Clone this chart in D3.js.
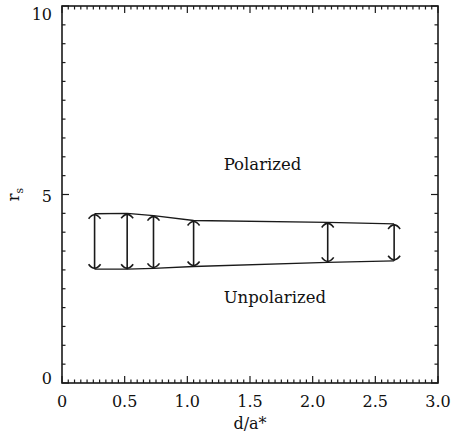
<!DOCTYPE html>
<html>
<head>
<meta charset="utf-8">
<script src="https://cdn.jsdelivr.net/npm/d3@7"></script>
<style>
  html, body { margin: 0; padding: 0; background: #fff; }
  svg { display: block; }
  text { font-family: "DejaVu Serif", "Liberation Serif", serif; fill: #111; }
</style>
</head>
<body>
<svg id="chart" width="452" height="439"></svg>
<script>
// ---- data ----
const dValues = [0.26, 0.52, 0.73, 1.05, 2.12, 2.65];      // d/a*
const upperRs = [4.49, 4.50, 4.44, 4.31, 4.26, 4.22];      // polarization boundary (upper)
const lowerRs = [3.02, 3.02, 3.04, 3.09, 3.20, 3.24];      // polarization boundary (lower)
const xTickLabels = ["0", "0.5", "1.0", "1.5", "2.0", "2.5", "3.0"];
const xTickValues = [0, 0.5, 1.0, 1.5, 2.0, 2.5, 3.0];
const yTickValues = [0, 5, 10];
const yTickLabels = ["0", "5", "10"];
const regionLabels = [
  { text: "Polarized", x: 1.29, y: 5.65 },
  { text: "Unpolarized", x: 1.29, y: 2.12 }
];

// ---- layout ----
const svg = d3.select("#chart");
const L = 62, R = 438, T = 6, B = 383;
const x = d3.scaleLinear().domain([0, 3]).range([L, R]);
const y = d3.scaleLinear().domain([0, 10]).range([B, T]);
// label baseline positions (labels sit slightly inside the axis ends, as in the reference)
const yLab = d3.scaleLinear().domain([0, 10]).range([384, 20]);
const ink = "#1a1a1a";

// minor tick values
const xMinor = d3.range(0, 3.0001, 0.05).map(v => +v.toFixed(2));
const yMinor = d3.range(0, 10.0001, 0.5).map(v => +v.toFixed(2));
const isMajorX = v => Math.abs(v * 2 - Math.round(v * 2)) < 1e-6;
const isMajorY = v => Math.abs(v / 5 - Math.round(v / 5)) < 1e-6;

// frame
const axes = svg.append("g");
axes.append("rect")
  .attr("x", L).attr("y", T).attr("width", R - L).attr("height", B - T)
  .attr("fill", "none").attr("stroke", ink).attr("stroke-width", 1.6);

// x ticks bottom & top (inward)
xMinor.forEach(v => {
  const len = isMajorX(v) ? 7 : 3.5;
  axes.append("line").attr("x1", x(v)).attr("x2", x(v)).attr("y1", B).attr("y2", B - len)
    .attr("stroke", ink).attr("stroke-width", 1.2);
  axes.append("line").attr("x1", x(v)).attr("x2", x(v)).attr("y1", T).attr("y2", T + len)
    .attr("stroke", ink).attr("stroke-width", 1.2);
});
// y ticks left & right (inward)
yMinor.forEach(v => {
  const len = isMajorY(v) ? 7 : 3.5;
  axes.append("line").attr("y1", y(v)).attr("y2", y(v)).attr("x1", L).attr("x2", L + len)
    .attr("stroke", ink).attr("stroke-width", 1.2);
  axes.append("line").attr("y1", y(v)).attr("y2", y(v)).attr("x1", R).attr("x2", R - len)
    .attr("stroke", ink).attr("stroke-width", 1.2);
});

// tick labels
xTickValues.forEach((v, i) => {
  svg.append("text").attr("x", x(v)).attr("y", B + 24)
    .attr("text-anchor", "middle").attr("font-size", 16).text(xTickLabels[i]);
});
yTickValues.forEach((v, i) => {
  svg.append("text").attr("x", L - 10).attr("y", yLab(v))
    .attr("text-anchor", "end").attr("font-size", 16).text(yTickLabels[i]);
});

// axis titles
svg.append("text").attr("x", x(1.5)).attr("y", 429)
  .attr("text-anchor", "middle").attr("font-size", 16).text("d/a*");
const yt = svg.append("text")
  .attr("transform", `translate(19,${y(5)}) rotate(-90)`)
  .attr("text-anchor", "middle").attr("font-size", 16);
yt.append("tspan").text("r");
yt.append("tspan").attr("font-size", 11).attr("dy", 4).text("s");

// boundary lines
const pts = dValues.map((d, i) => ({ d, up: upperRs[i], lo: lowerRs[i] }));
const lineUp = d3.line().x(p => x(p.d)).y(p => y(p.up));
const lineLo = d3.line().x(p => x(p.d)).y(p => y(p.lo));
svg.append("path").attr("d", lineUp(pts)).attr("fill", "none").attr("stroke", ink).attr("stroke-width", 1.3);
svg.append("path").attr("d", lineLo(pts)).attr("fill", "none").attr("stroke", ink).attr("stroke-width", 1.3);

// double-headed arrows
const arrows = svg.append("g").attr("fill", "none").attr("stroke", ink).attr("stroke-width", 1.6);
pts.forEach(p => {
  const cx = x(p.d), yt0 = y(p.up), yb0 = y(p.lo);
  arrows.append("line").attr("x1", cx).attr("x2", cx).attr("y1", yt0).attr("y2", yb0);
  arrows.append("path").attr("d", `M${cx - 6},${yt0 + 5} Q${cx},${yt0 - 3} ${cx + 6},${yt0 + 5}`);
  arrows.append("path").attr("d", `M${cx - 6},${yb0 - 5} Q${cx},${yb0 + 3} ${cx + 6},${yb0 - 5}`);
});

// region labels
regionLabels.forEach(r => {
  svg.append("text").attr("x", x(r.x)).attr("y", y(r.y))
    .attr("text-anchor", "start").attr("font-size", 16.5).text(r.text);
});
</script>
</body>
</html>
